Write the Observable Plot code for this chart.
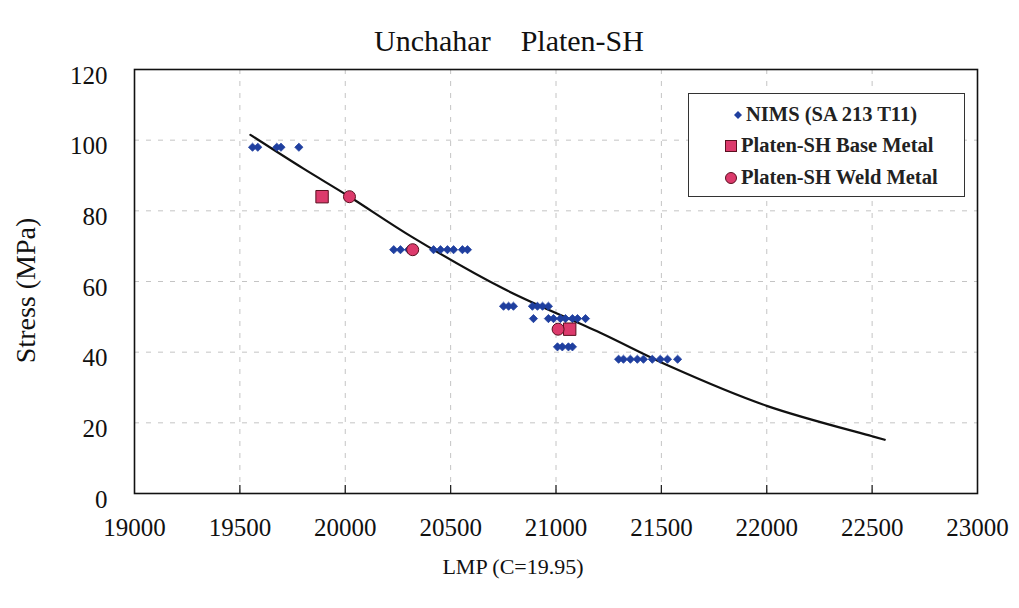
<!DOCTYPE html>
<html>
<head>
<meta charset="utf-8">
<script src="https://cdn.jsdelivr.net/npm/d3@7"></script>
<script src="https://cdn.jsdelivr.net/npm/@observablehq/plot@0.6"></script>
<style>
  html, body { margin: 0; padding: 0; background: #fff; }
  #wrap { position: relative; width: 1019px; height: 608px; font-family: "Liberation Serif", "Times New Roman", serif; }
  #legend { position: absolute; left: 688px; top: 93px; width: 277px; height: 104px; border: 1.5px solid #333; background: #fff; box-sizing: border-box; }
  .lrow { position: absolute; display: flex; align-items: center; font-weight: bold; font-size: 20.5px; color: #222; white-space: nowrap; }
  .lrow svg { margin-right: 4px; }
</style>
</head>
<body>
<div id="wrap"></div>
<script>
// ---- data ----
const titleText = "Unchahar\u00a0\u00a0\u00a0\u00a0Platen-SH";
const xLabel = "LMP (C=19.95)";
const yLabel = "Stress (MPa)";
const xTicks = [19000, 19500, 20000, 20500, 21000, 21500, 22000, 22500, 23000];
const yTicks = [0, 20, 40, 60, 80, 100, 120];

const nimsLMP = [19560, 19585, 19675, 19695, 19780,
  20230, 20262, 20300, 20419, 20452, 20485, 20514, 20556, 20580,
  20751, 20775, 20798, 20888, 20912, 20936, 20964,
  20893, 20964, 20988, 21021, 21045, 21078, 21102, 21140,
  21007, 21030, 21059, 21078,
  21297, 21320, 21353, 21386, 21415, 21457, 21495, 21529, 21577];
const nimsStress = [98, 98, 98, 98, 98,
  69, 69, 69, 69, 69, 69, 69, 69, 69,
  53, 53, 53, 53, 53, 53, 53,
  49.5, 49.5, 49.5, 49.5, 49.5, 49.5, 49.5, 49.5,
  41.5, 41.5, 41.5, 41.5,
  38, 38, 38, 38, 38, 38, 38, 38, 38];

const baseLMP = [19890, 21065];
const baseStress = [84, 46.5];
const weldLMP = [20020, 20320, 21010];
const weldStress = [84, 69, 46.5];

const curveLMP = [19550, 19800, 20020, 20320, 20750, 21210, 21540, 22000, 22500, 22560];
const curveStress = [101.5, 92, 84, 72.5, 58, 45.5, 36, 24.8, 16.2, 15.2];

const legendItems = ["NIMS (SA 213 T11)", "Platen-SH Base Metal", "Platen-SH Weld Metal"];

// ---- build tables ----
const nims = nimsLMP.map((x, i) => ({x, y: nimsStress[i]}));
const base = baseLMP.map((x, i) => ({x, y: baseStress[i]}));
const weld = weldLMP.map((x, i) => ({x, y: weldStress[i]}));
const curve = curveLMP.map((x, i) => ({x, y: curveStress[i]}));

const blue = "#1f3f9f";
const pink = "#dc3a6c";
const font = '"Liberation Serif", "Times New Roman", serif';

const W = 1019, H = 608, mL = 134, mR = 42, mT = 69, mB = 115;
const frameH = H - mT - mB;

const chart = Plot.plot({
  width: W,
  height: H,
  marginLeft: mL,
  marginRight: mR,
  marginTop: mT,
  marginBottom: mB,
  style: {fontFamily: font, fontSize: "25px", color: "#111", background: "#fff"},
  x: {domain: [19000, 23000]},
  y: {domain: [0, 120]},
  marks: [
    Plot.gridX(xTicks.slice(1, -1), {stroke: "#c4c4c4", strokeOpacity: 1, strokeDasharray: "5,7"}),
    Plot.gridY(yTicks.slice(1, -1), {stroke: "#c4c4c4", strokeOpacity: 1, strokeDasharray: "5,7"}),
    Plot.ruleX(xTicks.slice(1, -1), {x: d => d, insetTop: frameH - 8, stroke: "#222", strokeWidth: 1.3}),
    Plot.axisX(xTicks, {tickSize: 0, tickPadding: 25, label: null, fontSize: 25, tickFormat: d3.format("d")}),
    Plot.axisY(yTicks, {tickSize: 0, tickPadding: 27, label: null, fontSize: 25, dy: 6, tickFormat: d3.format("d")}),
    Plot.frame({stroke: "#111", strokeWidth: 1.6}),
    Plot.line(curve, {x: "x", y: "y", curve: "catmull-rom", stroke: "#111", strokeWidth: 2.2}),
    Plot.dot(nims, {x: "x", y: "y", symbol: "diamond2", r: 3.7, fill: blue, stroke: blue, strokeWidth: 0.8}),
    Plot.dot(base, {x: "x", y: "y", symbol: "square", r: 7, fill: pink, stroke: "#5a1020", strokeWidth: 1}),
    Plot.dot(weld, {x: "x", y: "y", symbol: "circle", r: 6, fill: pink, stroke: "#5a1020", strokeWidth: 1}),
    Plot.text([titleText], {text: d => d, frameAnchor: "top", textAnchor: "middle", dx: -47, dy: -40, fontSize: 30}),
    Plot.text([xLabel], {text: d => d, frameAnchor: "bottom", textAnchor: "middle", dx: -43, dy: 80, fontSize: 22}),
    Plot.text([yLabel], {text: d => d, frameAnchor: "left", textAnchor: "middle", dx: -108, dy: 9, rotate: -90, fontSize: 28})
  ]
});

const wrap = document.getElementById("wrap");
wrap.appendChild(chart);

// legend (HTML overlay)
const legend = document.createElement("div");
legend.id = "legend";
const rows = [
  {top: 9, left: 45, sym: `<svg width="8" height="8"><path d="M4,0L8,4L4,8L0,4Z" fill="${blue}"/></svg>`},
  {top: 40, left: 36, sym: `<svg width="12" height="12"><rect x="0.5" y="0.5" width="11" height="11" fill="${pink}" stroke="#5a1020"/></svg>`},
  {top: 72, left: 36, sym: `<svg width="12" height="12"><circle cx="6" cy="6" r="5.5" fill="${pink}" stroke="#5a1020"/></svg>`}
];
legendItems.forEach((t, i) => {
  const r = document.createElement("div");
  r.className = "lrow";
  r.style.top = (rows[i].top) + "px";
  r.style.left = rows[i].left + "px";
  r.innerHTML = rows[i].sym + "<span></span>";
  r.querySelector("span").textContent = t;
  legend.appendChild(r);
});
wrap.appendChild(legend);
</script>
</body>
</html>
